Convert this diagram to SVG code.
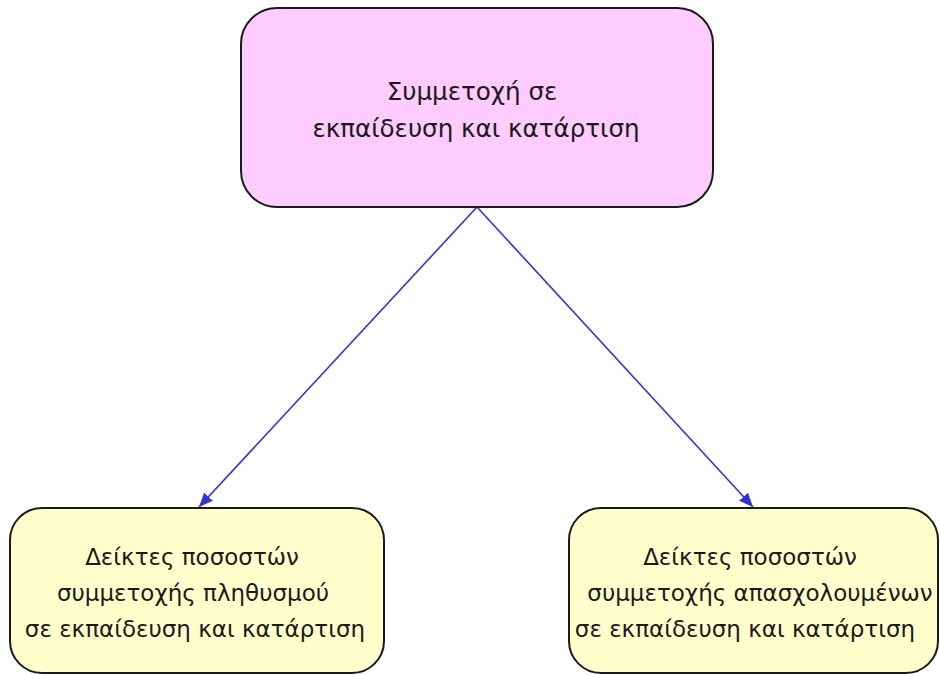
<svg xmlns="http://www.w3.org/2000/svg" width="940" height="675" viewBox="0 0 940 675">
<defs>
<style>
.box{stroke:#1a1a1a;stroke-width:2}
.top{fill:#ffccff}
.leaf{fill:#ffffcc}
text{font-family:"DejaVu Sans","Noto Sans",sans-serif;font-size:23px;fill:#1a1a1a;text-anchor:middle}
.big{font-size:24.6px}
.conn{stroke:#3333cc;stroke-width:1.6;fill:none}
</style>
<marker id="arr" viewBox="0 0 14 12" refX="14" refY="6" markerWidth="14" markerHeight="12" markerUnits="userSpaceOnUse" orient="auto">
<path d="M0,0 L14,6 L0,12 z" fill="#3333cc"/>
</marker>
</defs>
<rect width="940" height="675" fill="#ffffff"/>
<g id="connectors">
<line class="conn" x1="477" y1="207" x2="199" y2="507" marker-end="url(#arr)"/>
<line class="conn" x1="477" y1="207" x2="753" y2="507" marker-end="url(#arr)"/>
</g>
<g id="node-top">
<rect class="box top" x="241" y="8" width="472" height="199" rx="36" ry="36"/>
<text class="big" x="472" y="100">Συμμετοχή σε</text>
<text class="big" x="476" y="137">εκπαίδευση και κατάρτιση</text>
</g>
<g id="node-left">
<rect class="box leaf" x="10" y="508" width="374" height="165" rx="32" ry="32"/>
<text x="192" y="565">Δείκτες ποσοστών</text>
<text x="193" y="601">συμμετοχής πληθυσμού</text>
<text x="195" y="637">σε εκπαίδευση και κατάρτιση</text>
</g>
<g id="node-right">
<rect class="box leaf" x="569" y="508" width="369" height="165" rx="32" ry="32"/>
<text x="750" y="565">Δείκτες ποσοστών</text>
<text x="760" y="601">συμμετοχής απασχολουμένων</text>
<text x="745" y="637">σε εκπαίδευση και κατάρτιση</text>
</g>
</svg>
